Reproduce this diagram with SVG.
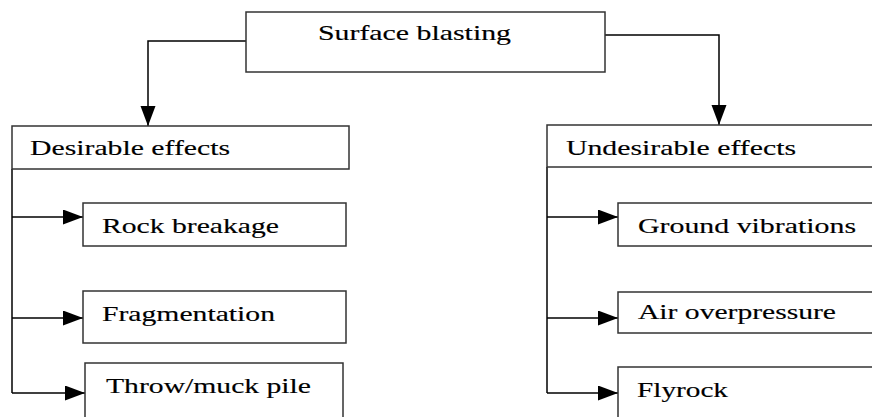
<svg xmlns="http://www.w3.org/2000/svg" width="872" height="417" viewBox="0 0 872 417">
<defs>
<marker id="ah" markerUnits="userSpaceOnUse" markerWidth="22" markerHeight="16" refX="20" refY="7.5" orient="auto">
<path d="M0,0 L20,7.5 L0,15 Z" fill="#000"/>
</marker>
<style>
.box{fill:#fff;stroke:#333;stroke-width:1.5}
.lbl{font-family:'Liberation Serif',serif;font-size:21px;fill:#000;stroke:#000;stroke-width:0.15}
.con{fill:none;stroke:#000;stroke-width:1.5;marker-end:url(#ah)}
.trunk{fill:none;stroke:#000;stroke-width:1.5}
</style>
</defs>
<rect width="872" height="417" fill="#fff"/>
<g id="connectors">
<path class="con" d="M246,41 H148 V126"/>
<path class="con" d="M605,35 H719 V125"/>
<path class="trunk" d="M12,169 V393"/>
<path class="con" d="M12,217 H83"/>
<path class="con" d="M12,318 H83"/>
<path class="con" d="M12,393 H85"/>
<path class="trunk" d="M547,167 V393"/>
<path class="con" d="M547,217 H618"/>
<path class="con" d="M547,318 H618"/>
<path class="con" d="M547,393 H618"/>
</g>
<g font-family="Liberation Serif, serif">
<g id="surface-blasting">
<rect class="box" x="246" y="12" width="359" height="60"/>
<text class="lbl" x="318" y="40" textLength="193" lengthAdjust="spacingAndGlyphs">Surface blasting</text>
</g>
<g id="desirable-effects">
<rect class="box" x="12" y="126" width="337" height="43"/>
<text class="lbl" x="30" y="155" textLength="200" lengthAdjust="spacingAndGlyphs">Desirable effects</text>
</g>
<g id="undesirable-effects">
<rect class="box" x="547" y="125" width="340" height="42"/>
<text class="lbl" x="566" y="155" textLength="230" lengthAdjust="spacingAndGlyphs">Undesirable effects</text>
</g>
<g id="rock-breakage">
<rect class="box" x="83" y="203" width="263" height="43"/>
<text class="lbl" x="102" y="233" textLength="177" lengthAdjust="spacingAndGlyphs">Rock breakage</text>
</g>
<g id="fragmentation">
<rect class="box" x="83" y="291" width="263" height="52"/>
<text class="lbl" x="102" y="321" textLength="173" lengthAdjust="spacingAndGlyphs">Fragmentation</text>
</g>
<g id="throw-muck-pile">
<rect class="box" x="85" y="363" width="258" height="70"/>
<text class="lbl" x="106" y="393" textLength="205" lengthAdjust="spacingAndGlyphs">Throw/muck pile</text>
</g>
<g id="ground-vibrations">
<rect class="box" x="618" y="203" width="270" height="43"/>
<text class="lbl" x="638" y="233" textLength="218" lengthAdjust="spacingAndGlyphs">Ground vibrations</text>
</g>
<g id="air-overpressure">
<rect class="box" x="618" y="292" width="270" height="41"/>
<text class="lbl" x="638" y="319" textLength="198" lengthAdjust="spacingAndGlyphs">Air overpressure</text>
</g>
<g id="flyrock">
<rect class="box" x="618" y="367" width="270" height="70"/>
<text class="lbl" x="637" y="397" textLength="91" lengthAdjust="spacingAndGlyphs">Flyrock</text>
</g>
</g>
</svg>
